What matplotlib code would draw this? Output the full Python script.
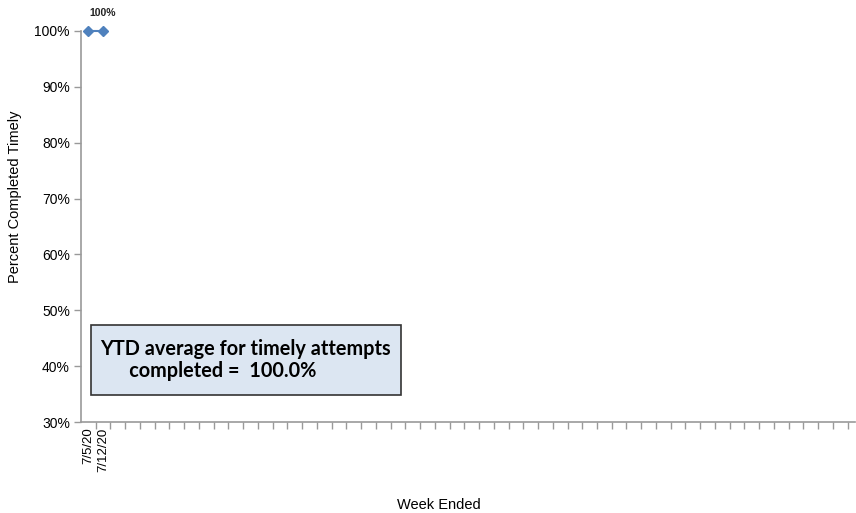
import matplotlib
matplotlib.use("Agg")
import matplotlib.pyplot as plt
from matplotlib.ticker import FixedLocator, PercentFormatter
from matplotlib.patches import Rectangle

plt.rcParams["font.family"] = ["Liberation Sans", "DejaVu Sans"]

# Data
week_labels = ["7/5/20", "7/12/20"]
pct_timely = [100, 100]
n_weeks = 53
y_ticks = [30, 40, 50, 60, 70, 80, 90, 100]
ytd_text = "YTD average for timely attempts\n      completed =  100.0%"

W, H = 856, 513
fig = plt.figure(figsize=(W / 100, H / 100), dpi=100)
ax = fig.add_axes([81 / W, 1 - 422 / H, (855 - 81) / W, (422 - 31) / H])

x = list(range(len(pct_timely)))
ax.plot(x, pct_timely, color="#4f81bd", marker="D", markersize=5, lw=1.5, clip_on=False, zorder=3)
ax.annotate(f"{pct_timely[-1]:.0f}%", (x[-1], pct_timely[-1]), xytext=(0, 9),
            textcoords="offset points", ha="center", va="bottom",
            fontsize=7.5, fontweight="bold", color="#222222")

ax.set_xlim(-0.5, 52.0)
ax.set_ylim(30, 100)
ax.yaxis.set_major_locator(FixedLocator(y_ticks))
ax.yaxis.set_major_formatter(PercentFormatter(decimals=0))

# category boundary ticks (major, no labels) and labels at centers (minor)
ax.xaxis.set_major_locator(FixedLocator([k + 0.5 for k in range(n_weeks - 1)]))
ax.set_xticklabels([])
ax.xaxis.set_minor_locator(FixedLocator(x))
ax.set_xticklabels(week_labels, minor=True, rotation=90, fontsize=9.5, va="top")
ax.tick_params(axis="x", which="minor", length=0, pad=4)
ax.tick_params(axis="x", which="major", length=5, color="#999999", width=1)
ax.tick_params(axis="y", length=5, color="#999999", width=1, labelsize=10, pad=3)

for s in ["top", "right"]:
    ax.spines[s].set_visible(False)
for s in ["left", "bottom"]:
    ax.spines[s].set_color("#999999")
    ax.spines[s].set_linewidth(1.2)

fig.text(15 / W, 1 - 197 / H, "Percent Completed Timely", rotation=90,
         ha="center", va="center", fontsize=10.5)
fig.text(439 / W, 1 - 505 / H, "Week Ended", ha="center", va="center", fontsize=10.5)

fig.text(100 / W, 1 - 360 / H, ytd_text, ha="left", va="center", fontsize=14.3,
         fontweight="bold", family=["Lato", "DejaVu Sans"], linespacing=1.1)
fig.patches.append(Rectangle((91 / W, 1 - 395 / H), (401 - 91) / W, (395 - 325) / H,
                             transform=fig.transFigure, facecolor="#dce6f2",
                             edgecolor="#333333", linewidth=1.2, zorder=1))

fig.savefig("out.png", dpi=100)
